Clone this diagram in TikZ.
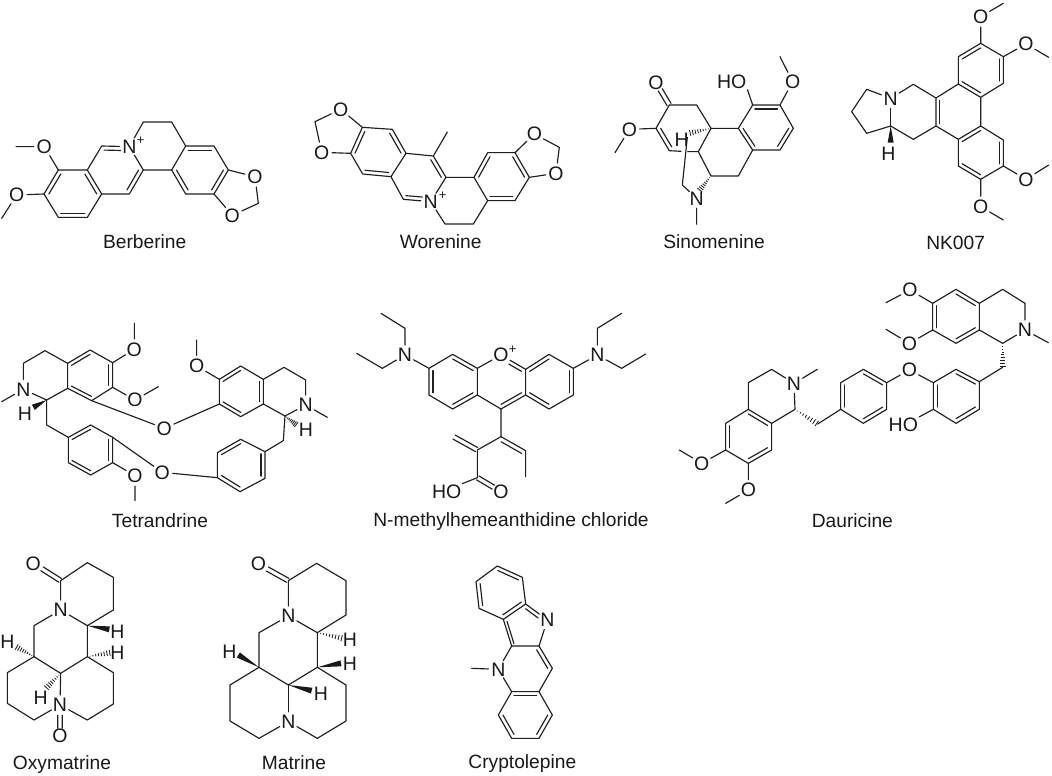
\documentclass[tikz,border=0pt]{standalone}
\usepackage{fontspec}
\setmainfont{Liberation Sans}
\usetikzlibrary{calc}
\tikzset{
  bond/.style={line width=1.15pt,line cap=round,line join=round,black!88},
  atom/.style={circle,inner sep=0pt,font=\fontsize{19.5}{20}\selectfont,text=black!90},
  hotext/.style={rectangle,inner sep=1pt,font=\fontsize{19.5}{20}\selectfont,text=black!90},
  chg/.style={inner sep=0pt,font=\fontsize{13}{13}\selectfont,text=black!90},
  molname/.style={anchor=base,inner sep=0pt,font=\fontsize{19.2}{20}\selectfont,text=black!90},
  zoomed/.style={x=0.33333pt,y=-0.33333pt}
}
\newcommand\atoms[1]{\foreach \n/\x/\y in {#1} {\coordinate (\n) at (\x,\y);}}
\newcommand\ctr[3]{\coordinate (#1) at ($(#2)!.5!(#3)$);}
\newcommand\dbin[3]{\draw[bond] ($(#1)!.17!(#3)$) -- ($(#2)!.17!(#3)$);}
\newcommand\dbins[1]{\foreach \p/\q/\r in {#1} {\dbin{\p}{\q}{\r}}}
\newcommand\dbt[4]{\path ($(#1)!.17!(#3)$) coordinate (tmpa) ($(#2)!.17!(#3)$) coordinate (tmpb); \draw[bond] (tmpa) -- ($(tmpa)!#4!(tmpb)$);}
\newcommand\dbs[4]{\draw[bond] ($(#1)!#3!(#2)!2.3pt!90:(#2)$) -- ($(#1)!#4!(#2)!2.3pt!90:(#2)$);
  \draw[bond] ($(#1)!#3!(#2)!2.3pt!-90:(#2)$) -- ($(#1)!#4!(#2)!2.3pt!-90:(#2)$);}
\newcommand\wedgb[2]{\fill[black!90] (#1) -- ($(#2)!3pt!90:(#1)$) -- ($(#2)!3pt!-90:(#1)$) -- cycle;}
\newcommand\hashb[2]{\foreach \f in {.12,.24,.36,.48,.60,.72,.84,.96} {\pgfmathsetmacro\wd{\f*3.2}
  \draw[line width=.85pt,black!88] ($(#1)!\f!(#2)!\wd pt!90:(#2)$) -- ($(#1)!\f!(#2)!\wd pt!-90:(#2)$);}}
\begin{document}
\begin{tikzpicture}[x=1pt,y=-1pt]
\useasboundingbox (0,0) rectangle (1052,776);
\fill[white] (0,0) rectangle (1052,776);
% Berberine
\begin{scope}[shift={(0,90)},zoomed]
\atoms{b1/175/240,b2/262/240,b3/305/312,b4/262/382,b5/175/382,b6/132/312,b7/305/168,b9/430/240,b10/388/312,b11/430/96,b12/515/96,b13/557/168,b14/515/240,b15/642/168,b16/685/240,b17/642/312,b18/557/312,b19/775/340,b20/48/170,b21/5/385}
\node[atom] (bN) at (388,170) {N};
\node[chg] (bP) at (422,152) {+};
\node[atom] (bO1) at (133,170) {O};
\node[atom] (bO2) at (50,315) {O};
\node[atom] (bO3) at (765,260) {O};
\node[atom] (bO4) at (697,376) {O};
\ctr{bA}{b1}{b4}\ctr{bB}{b7}{b10}\ctr{bC}{b15}{b18}
\draw[bond] (b6)--(b1)--(b2)--(b3)--(b4)--(b5)--(b6);
\draw[bond] (b2)--(b7)--(bN)--(b9)--(b10)--(b3);
\draw[bond] (bN)--(b11)--(b12)--(b13)--(b14)--(b9);
\draw[bond] (b13)--(b15)--(b16)--(b17)--(b18)--(b14);
\draw[bond] (b16)--(bO3)--(b19)--(bO4)--(b17);
\draw[bond] (b1)--(bO1)--(b20);
\draw[bond] (b6)--(bO2)--(b21);
\dbins{b1/b6/bA,b2/b3/bA,b4/b5/bA,b9/b10/bB,b13/b15/bC,b16/b17/bC,b14/b18/bC}
\dbt{b7}{bN}{bB}{.72}
\node[molname] (bL) at (434,476) {Berberine};
\end{scope}
% Worenine
\begin{scope}[shift={(300,70)},zoomed]
\atoms{w1/187/172,w2/277/178,w3/318/250,w4/273/320,w5/188/312,w6/152/250,w7/400/258,w8/438/322,w10/310/388,w11/442/186,w12/522/322,w13/563/392,w14/520/462,w15/435/462,w16/563/248,w17/645/248,w18/688/322,w19/645/392,w20/778/232,w21/45/155}
\node[atom] (wN) at (392,395) {N};
\node[chg] (wP) at (428,376) {+};
\node[atom] (wO1) at (122,118) {O};
\node[atom] (wO2) at (65,247) {O};
\node[atom] (wO3) at (703,192) {O};
\node[atom] (wO4) at (768,310) {O};
\ctr{wA}{w1}{w4}\ctr{wB}{w7}{w10}\ctr{wC}{w16}{w19}
\draw[bond] (w6)--(w1)--(w2)--(w3)--(w4)--(w5)--(w6);
\draw[bond] (w3)--(w7)--(w8)--(wN)--(w10)--(w4);
\draw[bond] (w7)--(w11);
\draw[bond] (w8)--(w12)--(w13)--(w14)--(w15)--(wN);
\draw[bond] (w12)--(w16)--(w17)--(w18)--(w19)--(w13);
\draw[bond] (w1)--(wO1)--(w21)--(wO2)--(w6);
\draw[bond] (w17)--(wO3)--(w20)--(wO4)--(w18);
\dbins{w1/w6/wA,w2/w3/wA,w4/w5/wA,w7/w8/wB,w12/w16/wC,w17/w18/wC,w13/w19/wC}
\dbt{w10}{wN}{wB}{.72}
\node[molname] (wL) at (422,537) {Worenine};
\end{scope}
% Sinomenine
\begin{scope}[shift={(600,50)},zoomed]
\atoms{s1/208/165,s2/290/165,s3/333/235,s4/415/235,s5/458/165,s6/540/165,s7/580/235,s8/540/300,s9/458/300,s10/168/235,s11/208/302,s12/295/305,s13/333/378,s14/415/378,s15/45/308,s16/540/20,s17/247/405,s18/290/523,s19/262/262,s20/268/250,s21/298/422,s22/243/304,s23/263/305}
\node[atom] (sO1) at (168,98) {O};
\node[atom] (sO2) at (88,238) {O};
\node[atom] (sO3) at (578,95) {O};
\node[atom] (sN) at (290,445) {N};
\node[atom] (sH) at (245,268) {H};
\node[hotext] (sHO) at (395,95) {HO};
\ctr{sA}{s4}{s7}\coordinate (sB) at (250,235);
\draw[bond] (s1)--(s2)--(s3)--(s4)--(s5)--(s6)--(s7)--(s8)--(s9)--(s4);
\draw[bond] (s5)--(sHO.south east);
\draw[bond] (s6)--(sO3)--(s16);
\draw[bond] (s3)--(s12);
\draw[bond] (s1)--(s10)--(s11)--(s22);
\draw[bond] (s23)--(s12)--(s13)--(s14)--(s9);
\draw[bond] (s10)--(sO2)--(s15);
\draw[bond] (s19)--(s17)--(sN)--(s18);
\dbs{s1}{sO1}{.02}{.68}
\dbins{s5/s6/sA,s7/s8/sA,s4/s9/sA,s10/s11/sB}
\hashb{s3}{s20}
\hashb{s13}{s21}
\node[molname] (sL) at (342,597) {Sinomenine};
\end{scope}
% NK007
\begin{scope}[shift={(820,0)},zoomed]
\atoms{k1/482/130,k2/550/170,k3/550/250,k4/482/292,k5/415/252,k6/415/170,k7/482/378,k8/415/418,k9/348/378,k10/348/294,k11/550/420,k12/550/498,k13/482/538,k14/415/498,k15/280/253,k16/140/268,k17/95/335,k18/140/400,k19/212/378,k20/280/418,k21/550/10,k22/686/172,k23/686/495,k24/550/660,k25/212/428}
\node[atom] (kO1) at (482,50) {O};
\node[atom] (kO2) at (618,132) {O};
\node[atom] (kO3) at (618,538) {O};
\node[atom] (kO4) at (482,620) {O};
\node[atom] (kN) at (212,295) {N};
\node[atom] (kH) at (205,460) {H};
\ctr{kA}{k1}{k4}\ctr{kB}{k7}{k13}\ctr{kC}{k10}{k7}
\draw[bond] (k1)--(k2)--(k3)--(k4)--(k5)--(k6)--(k1);
\draw[bond] (k4)--(k7)--(k11)--(k12)--(k13)--(k14)--(k8)--(k7);
\draw[bond] (k8)--(k9)--(k10)--(k5);
\draw[bond] (k10)--(k15)--(kN)--(k16)--(k17)--(k18)--(k19)--(k20)--(k9);
\draw[bond] (kN)--(k19);
\draw[bond] (k1)--(kO1)--(k21);
\draw[bond] (k2)--(kO2)--(k22);
\draw[bond] (k12)--(kO3)--(k23);
\draw[bond] (k13)--(kO4)--(k24);
\wedgb{k19}{k25}
\dbins{k1/k6/kA,k2/k3/kA,k5/k4/kA,k7/k8/kB,k11/k12/kB,k13/k14/kB,k10/k9/kC}
\node[molname] (kL) at (407,750) {NK007};
\end{scope}
% Tetrandrine
\begin{scope}[shift={(0,310)},zoomed]
\atoms{t1/70/160,t2/135/122,t3/203/160,t4/203/235,t5/140/270,t6/270/120,t7/338/158,t8/338/232,t9/275/272,t10/5/275,t11/403/40,t12/475/230,t13/100/292,t14/140/345,t15/205/382,t16/272/345,t17/338/382,t18/338/458,t19/272/495,t20/205/458,t21/405/572,t22/658/208,t23/722/168,t24/790/208,t25/790/282,t26/722/320,t27/658/282,t28/590/90,t29/852/172,t30/917/210,t31/855/318,t32/982/322,t33/890/345,t34/850/392,t35/795/425,t36/722/388,t37/652/428,t38/652/503,t39/720/545,t40/795/505}
\node[atom] (tN1) at (70,238) {N};
\node[atom] (tH1) at (75,312) {H};
\node[atom] (tO1) at (403,118) {O};
\node[atom] (tO2) at (405,270) {O};
\node[atom] (tO3) at (493,355) {O};
\node[atom] (tO4) at (487,487) {O};
\node[atom] (tO5) at (405,497) {O};
\node[atom] (tO6) at (590,168) {O};
\node[atom] (tN2) at (917,285) {N};
\node[atom] (tH2) at (918,358) {H};
\ctr{tA}{t3}{t8}\ctr{tB}{t15}{t18}\ctr{tC}{t22}{t25}\ctr{tD}{t35}{t38}
\draw[bond] (t3)--(t2)--(t1)--(tN1)--(t5)--(t4)--(t3);
\draw[bond] (tN1)--(t10);
\draw[bond] (t3)--(t6)--(t7)--(t8)--(t9)--(t4);
\draw[bond] (t7)--(tO1)--(t11);
\draw[bond] (t8)--(tO2)--(t12);
\draw[bond] (t9)--(tO3)--(t27);
\draw[bond] (t5)--(t14)--(t15)--(t16)--(t17)--(t18)--(t19)--(t20)--(t15);
\draw[bond] (t18)--(tO5)--(t21);
\draw[bond] (t17)--(tO4)--(t38);
\draw[bond] (t22)--(t23)--(t24)--(t25)--(t26)--(t27)--(t22);
\draw[bond] (t22)--(tO6)--(t28);
\draw[bond] (t24)--(t29)--(t30)--(tN2)--(t31)--(t25);
\draw[bond] (tN2)--(t32);
\draw[bond] (t31)--(t34)--(t35)--(t36)--(t37)--(t38)--(t39)--(t40)--(t35);
\wedgb{t5}{t13}
\hashb{t31}{t33}
\dbins{t3/t6/tA,t7/t8/tA,t9/t4/tA,t15/t16/tB,t17/t18/tB,t19/t20/tB,t22/t23/tC,t24/t25/tC,t26/t27/tC,t37/t36/tD,t35/t40/tD,t38/t39/tD}
\node[molname] (tL) at (480,652) {Tetrandrine};
\end{scope}
% N-methylhemeanthidine chloride
\begin{scope}[shift={(350,310)},zoomed]
\atoms{m1/165/55,m2/93/10,m3/97/175,m4/20/130,m5/237/175,m6/308/133,m7/382/175,m8/382/255,m9/308/297,m10/237/255,m11/527/178,m12/527/255,m13/453/297,m14/597/133,m15/670/175,m16/670/255,m17/597/297,m18/742/55,m19/815/10,m20/815/175,m21/887/132,m22/453/380,m23/382/420,m24/527/422,m25/527/500,m26/310/380,m27/382/503,m28/455/470}
\node[atom] (mN1) at (165,135) {N};
\node[atom] (mN2) at (742,135) {N};
\node[atom] (mO1) at (453,135) {O};
\node[chg] (mP) at (488,118) {+};
\node[atom] (mO2) at (453,545) {O};
\node[hotext] (mHO) at (290,545) {HO};
\ctr{mA}{m6}{m9}\ctr{mB}{m7}{m12}\ctr{mC}{m14}{m17}
\draw[bond] (m2)--(m1)--(mN1)--(m3)--(m4);
\draw[bond] (mN1)--(m5)--(m6)--(m7)--(m8)--(m9)--(m10)--(m5);
\draw[bond] (m7)--(mO1)--(m11)--(m12)--(m13)--(m8);
\draw[bond] (m11)--(m14)--(m15)--(m16)--(m17)--(m12);
\draw[bond] (m15)--(mN2)--(m18)--(m19);
\draw[bond] (mN2)--(m20)--(m21);
\draw[bond] (m13)--(m22)--(m23)--(m27)--(mHO.north east);
\draw[bond] (m22)--(m24)--(m25);
\dbs{m23}{m26}{.03}{.97}
\dbs{m27}{mO2}{.02}{.68}
\dbins{m6/m7/mA,m5/m10/mA,m8/m9/mA,m12/m13/mB,m11/m14/mC,m15/m16/mC,m12/m17/mC,m22/m24/m28}
\dbt{m11}{mO1}{mB}{.62}
\node[molname] (mL) at (483,650) {N-methylhemeanthidine chloride};
\end{scope}
% Dauricine
\begin{scope}[shift={(670,280)},zoomed]
\atoms{d1/788/70,d2/858/28,d3/928/70,d4/928/150,d5/858/190,d6/788/150,d7/648/68,d8/648/148,d9/998/28,d10/1065/70,d11/998/190,d12/1135/188,d13/998/262,d14/928/305,d15/858/268,d16/790/308,d17/790/388,d18/858/430,d19/928/388,d20/650/308,d21/580/268,d22/512/308,d23/512/388,d24/580/430,d25/650/388,d26/443/432,d27/375/388,d28/305/268,d29/235/308,d30/235/388,d31/305/430,d32/305/510,d33/235/550,d34/167/510,d35/167/430,d36/442/268,d37/28/510,d38/167/670}
\node[atom] (dO1) at (720,30) {O};
\node[atom] (dO2) at (718,190) {O};
\node[atom] (dN1) at (1065,150) {N};
\node[atom] (dO3) at (718,270) {O};
\node[hotext] (dHO) at (700,435) {HO};
\node[atom] (dN2) at (372,310) {N};
\node[atom] (dO4) at (95,550) {O};
\node[atom] (dO5) at (235,630) {O};
\ctr{dA}{d1}{d4}\ctr{dB}{d14}{d17}\ctr{dC}{d20}{d23}\ctr{dD}{d30}{d33}
\draw[bond] (d1)--(d2)--(d3)--(d4)--(d5)--(d6)--(d1);
\draw[bond] (d7)--(dO1)--(d1);
\draw[bond] (d8)--(dO2)--(d6);
\draw[bond] (d3)--(d9)--(d10)--(dN1)--(d11)--(d4);
\draw[bond] (dN1)--(d12);
\draw[bond] (d13)--(d14)--(d15)--(d16)--(d17)--(d18)--(d19)--(d14);
\draw[bond] (d16)--(dO3)--(d20)--(d21)--(d22)--(d23)--(d24)--(d25)--(d20);
\draw[bond] (d17)--(dHO.north east);
\draw[bond] (d23)--(d26);
\draw[bond] (d27)--(dN2)--(d28)--(d29)--(d30)--(d31)--(d27);
\draw[bond] (dN2)--(d36);
\draw[bond] (d30)--(d35)--(d34)--(d33)--(d32)--(d31);
\draw[bond] (d34)--(dO4)--(d37);
\draw[bond] (d33)--(dO5)--(d38);
\hashb{d11}{d13}
\hashb{d27}{d26}
\dbins{d1/d6/dA,d2/d3/dA,d4/d5/dA,d14/d15/dB,d16/d17/dB,d18/d19/dB,d21/d20/dC,d22/d23/dC,d24/d25/dC,d30/d31/dD,d32/d33/dD,d34/d35/dD}
\node[molname] (dL) at (547,741) {Dauricine};
\end{scope}
% Oxymatrine
\begin{scope}[shift={(0,540)},zoomed]
\atoms{o1/182/122,o2/262/68,o3/340/112,o4/340/210,o5/262/257,o6/102/257,o7/102/350,o8/182/400,o9/262/350,o10/22/398,o11/22/490,o12/102/540,o13/262/540,o14/340/492,o15/340/398,o16/328/268,o17/332/338,o18/48/320,o19/138/445}
\node[atom] (oO1) at (100,70) {O};
\node[atom] (oN1) at (182,210) {N};
\node[atom] (oN2) at (180,495) {N};
\node[atom] (oO2) at (180,588) {O};
\node[atom] (oH1) at (352,275) {H};
\node[atom] (oH2) at (352,338) {H};
\node[atom] (oH3) at (22,305) {H};
\node[atom] (oH4) at (122,472) {H};
\draw[bond] (oN1)--(o1)--(o2)--(o3)--(o4)--(o5)--(oN1)--(o6)--(o7)--(o8)--(o9)--(o5);
\draw[bond] (o7)--(o10)--(o11)--(o12)--(oN2)--(o13)--(o14)--(o15)--(o9);
\draw[bond] (o8)--(oN2);
\dbs{o1}{oO1}{.02}{.68}
\dbs{oN2}{oO2}{.33}{.75}
\wedgb{o5}{o16}
\hashb{o9}{o17}
\hashb{o7}{o18}
\hashb{o8}{o19}
\node[molname] (oL) at (186,689) {Oxymatrine};
\end{scope}
% Matrine
\begin{scope}[shift={(210,540)},zoomed]
\atoms{r1/235/122,r2/320/70,r3/408/122,r4/408/225,r5/322/278,r6/147/278,r7/147/382,r8/235/435,r9/322/382,r10/60/435,r11/60/543,r12/147/595,r13/322/595,r14/408/543,r15/408/435,r16/85/345,r17/398/295,r18/393/370,r19/305/452}
\node[atom] (rO1) at (145,72) {O};
\node[atom] (rN1) at (235,228) {N};
\node[atom] (rN2) at (235,545) {N};
\node[atom] (rH1) at (58,335) {H};
\node[atom] (rH2) at (420,300) {H};
\node[atom] (rH3) at (420,372) {H};
\node[atom] (rH4) at (333,460) {H};
\draw[bond] (rN1)--(r1)--(r2)--(r3)--(r4)--(r5)--(rN1)--(r6)--(r7)--(r8)--(r9)--(r5);
\draw[bond] (r7)--(r10)--(r11)--(r12)--(rN2)--(r13)--(r14)--(r15)--(r9);
\draw[bond] (r8)--(rN2);
\dbs{r1}{rO1}{.02}{.7}
\wedgb{r7}{r16}
\hashb{r5}{r17}
\wedgb{r9}{r18}
\wedgb{r8}{r19}
\node[molname] (rL) at (252,688) {Matrine};
\end{scope}
% Cryptolepine
\begin{scope}[shift={(440,540)},zoomed]
\atoms{c1/172/78,c2/247/112,c3/257/192,c4/190/238,c5/117/205,c6/108/125,c7/297/318,c8/215/318,c9/337/385,c10/297/455,c11/215/455,c12/337/525,c13/297/595,c14/215/595,c15/175/525,c16/95/385}
\node[atom] (cN1) at (322,240) {N};
\node[atom] (cN2) at (175,388) {N};
\ctr{cA}{c1}{c4}\ctr{cB}{c8}{c10}\ctr{cC}{c11}{c13}\coordinate (cD) at (255,275);
\draw[bond] (c1)--(c2)--(c3)--(c4)--(c5)--(c6)--(c1);
\draw[bond] (c3)--(cN1)--(c7)--(c8)--(c4);
\draw[bond] (c7)--(c9)--(c10)--(c11)--(cN2)--(c8);
\draw[bond] (cN2)--(c16);
\draw[bond] (c10)--(c12)--(c13)--(c14)--(c15)--(c11);
\dbins{c1/c2/cA,c5/c6/cA,c3/c4/cA,c7/c9/cB,c10/c11/cC,c12/c13/cC,c14/c15/cC,c4/c8/cD}
\dbt{c3}{cN1}{cD}{.7}
\node[molname] (cL) at (247,685) {Cryptolepine};
\end{scope}
\end{tikzpicture}
\end{document}
